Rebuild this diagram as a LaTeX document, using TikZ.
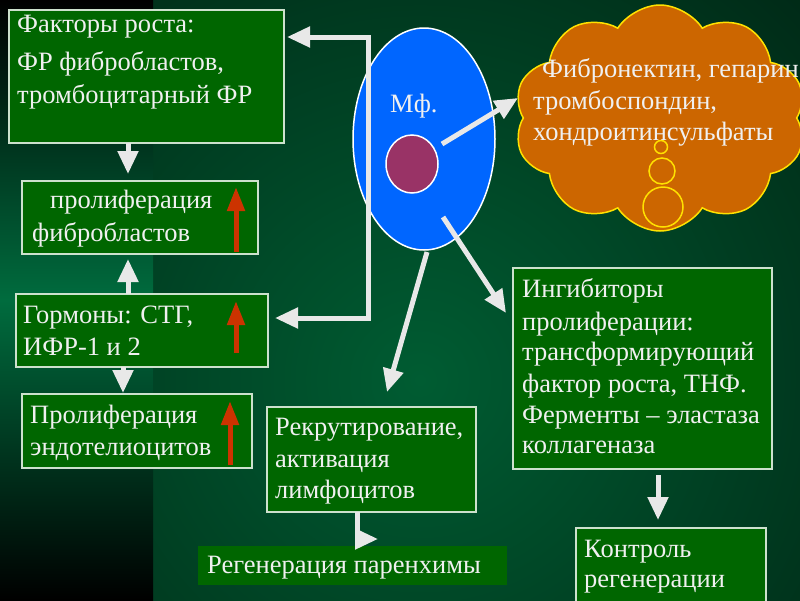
\documentclass[tikz,border=0pt]{standalone}
\usepackage{fontspec}
\setmainfont{Liberation Serif}
\usetikzlibrary{arrows.meta,shapes.geometric,shapes.symbols}
\definecolor{boxgreen}{RGB}{0,102,0}
\definecolor{boxline}{RGB}{205,225,205}
\definecolor{bgreen}{RGB}{0,92,50}
\definecolor{stripgreen}{RGB}{0,108,62}
\definecolor{cellblue}{RGB}{0,102,255}
\definecolor{nucl}{RGB}{153,51,102}
\definecolor{cloudor}{RGB}{204,102,0}
\definecolor{cloudline}{RGB}{255,225,0}
\definecolor{redarr}{RGB}{204,51,0}
\definecolor{txtc}{RGB}{240,240,240}
\definecolor{arrc}{RGB}{232,232,232}
\begin{document}
\begin{tikzpicture}[x=1pt,y=-1pt,
  box/.style={draw=boxline, line width=1.5pt, fill=boxgreen, anchor=north west, inner sep=0pt, outer sep=0pt},
  txt/.style={anchor=base west, inner sep=0pt, text=txtc, font=\fontsize{26.5}{30}\selectfont},
  warr/.style={draw=arrc, line width=5pt, line join=miter, -{Triangle[width=20pt,length=23pt]}},
  rarr/.style={draw=redarr, line width=5pt, -{Triangle[width=17pt,length=24pt]}},
  bubble/.style={circle, draw=cloudline, line width=1.5pt, inner sep=0pt},
]
\useasboundingbox (0,0) rectangle (800,600);
% background
\fill[black] (0,0) rectangle (800,600);
\begin{scope}
  \clip (153,0) rectangle (800,600);
  \shade[inner color=bgreen, outer color=black] (420,380) circle (1000);
\end{scope}
\shade[top color=black, bottom color=black, middle color=stripgreen] (0,0) rectangle (153,600);

% boxes
\node[box, minimum width=275, minimum height=133] (b1) at (9,10) {};
\node[box, minimum width=236, minimum height=73] (b2) at (22,181) {};
\node[box, minimum width=252, minimum height=73] (b3) at (16,294) {};
\node[box, minimum width=230, minimum height=74] (b4) at (22,394) {};
\node[box, minimum width=209, minimum height=105] (b5) at (267,407) {};
\node[box, draw=none, minimum width=309, minimum height=39] (b6) at (198,546) {};
\node[box, minimum width=259, minimum height=201] (b7) at (513,268) {};
\node[box, minimum width=190, minimum height=90] (b8) at (576,528) {};

% cloud
\node[cloud, cloud puffs=10, cloud puff arc=115, cloud ignores aspect, minimum width=292, minimum height=226,
      fill=cloudor, draw=cloudline, line width=1.5pt] (cl) at (660,118) {};
\node[bubble, minimum size=13] (bu1) at (661,147) {};
\node[bubble, minimum size=26] (bu2) at (662,171) {};
\node[bubble, minimum size=40] (bu3) at (663,207) {};

% cell
\node[ellipse, draw=white, line width=1.5pt, fill=cellblue, minimum width=142, minimum height=222, inner sep=0pt] (mf) at (424,139) {};
\node[ellipse, draw=white, line width=1.5pt, fill=nucl, minimum width=52, minimum height=58, inner sep=0pt] (nuc) at (412,164) {};

% texts
\node[txt] (mft) at (390,112) {Мф.};
\node[txt] (t1a) at (17,32) {Факторы роста:};
\node[txt] (t1b) at (17,70) {ФР фибробластов,};
\node[txt] (t1c) at (17,103) {тромбоцитарный ФР};
\node[txt] (t2a) at (50,208) {пролиферация};
\node[txt] (t2b) at (32,241) {фибробластов};
\node[txt] (t3a) at (23,323) {Гормоны: СТГ,};
\node[txt] (t3b) at (23,355) {ИФР-1 и 2};
\node[txt] (t4a) at (30,423) {Пролиферация};
\node[txt] (t4b) at (30,455) {эндотелиоцитов};
\node[txt] (t5a) at (275,435) {Рекрутирование,};
\node[txt] (t5b) at (275,467) {активация};
\node[txt] (t5c) at (275,498) {лимфоцитов};
\node[txt] (t6a) at (207,573) {Регенерация паренхимы};
\node[txt] (t7a) at (522,297) {Ингибиторы};
\node[txt] (t7b) at (522,330) {пролиферации:};
\node[txt] (t7c) at (522,360) {трансформирующий};
\node[txt] (t7d) at (522,392) {фактор роста, ТНФ.};
\node[txt] (t7e) at (522,423) {Ферменты – эластаза};
\node[txt] (t7f) at (522,453) {коллагеназа};
\node[txt] (t8a) at (584,557) {Контроль};
\node[txt] (t8b) at (584,587) {регенерации};
\node[txt] (tca) at (542,77) {Фибронектин, гепарин};
\node[txt] (tcb) at (533,109) {тромбоспондин,};
\node[txt] (tcc) at (533,140) {хондроитинсульфаты};

% red arrows
\draw[rarr] (236,252) -- (236,187);
\draw[rarr] (236,353) -- (236,301);
\draw[rarr] (230,465) -- (230,401);

% coordinates for connectors
\coordinate (xa) at (128,0);
\coordinate (xb) at (123,0);
\coordinate (ctop) at (368,37);
\coordinate (cbot) at (368,318);
\coordinate (x5) at (357,0);
\coordinate (c56) at (357,539);
\coordinate (tip56) at (378,539);
\coordinate (x7) at (658,0);
\coordinate (e1) at (442,144);
\coordinate (e1t) at (518,98);
\coordinate (e2) at (443,217);
\coordinate (e2t) at (506,313);
\coordinate (e3) at (427,252);
\coordinate (e3t) at (387,392);

% white connectors
\draw[warr, shorten >=7pt] (b1.south -| xa) -- (b2.north -| xa);
\draw[warr, shorten >=5pt] (b3.north -| xa) -- (b2.south -| xa);
\draw[warr, shorten >=1pt] (b3.south -| xb) -- (b4.north -| xb);
\draw[warr, {Triangle[width=20pt,length=23pt]}-{Triangle[width=20pt,length=23pt]}, shorten <=3pt, shorten >=7pt]
  (b1.east |- ctop) -- (ctop) -- (cbot) -- (b3.east |- cbot);
\draw[warr] (b5.south -| x5) -- (c56) -- (tip56);
\draw[warr, shorten <=6pt, shorten >=8pt] (b7.south -| x7) -- (b8.north -| x7);
\draw[warr] (e1) -- (e1t);
\draw[warr] (e2) -- (e2t);
\draw[warr] (e3) -- (e3t);
\end{tikzpicture}
\end{document}
